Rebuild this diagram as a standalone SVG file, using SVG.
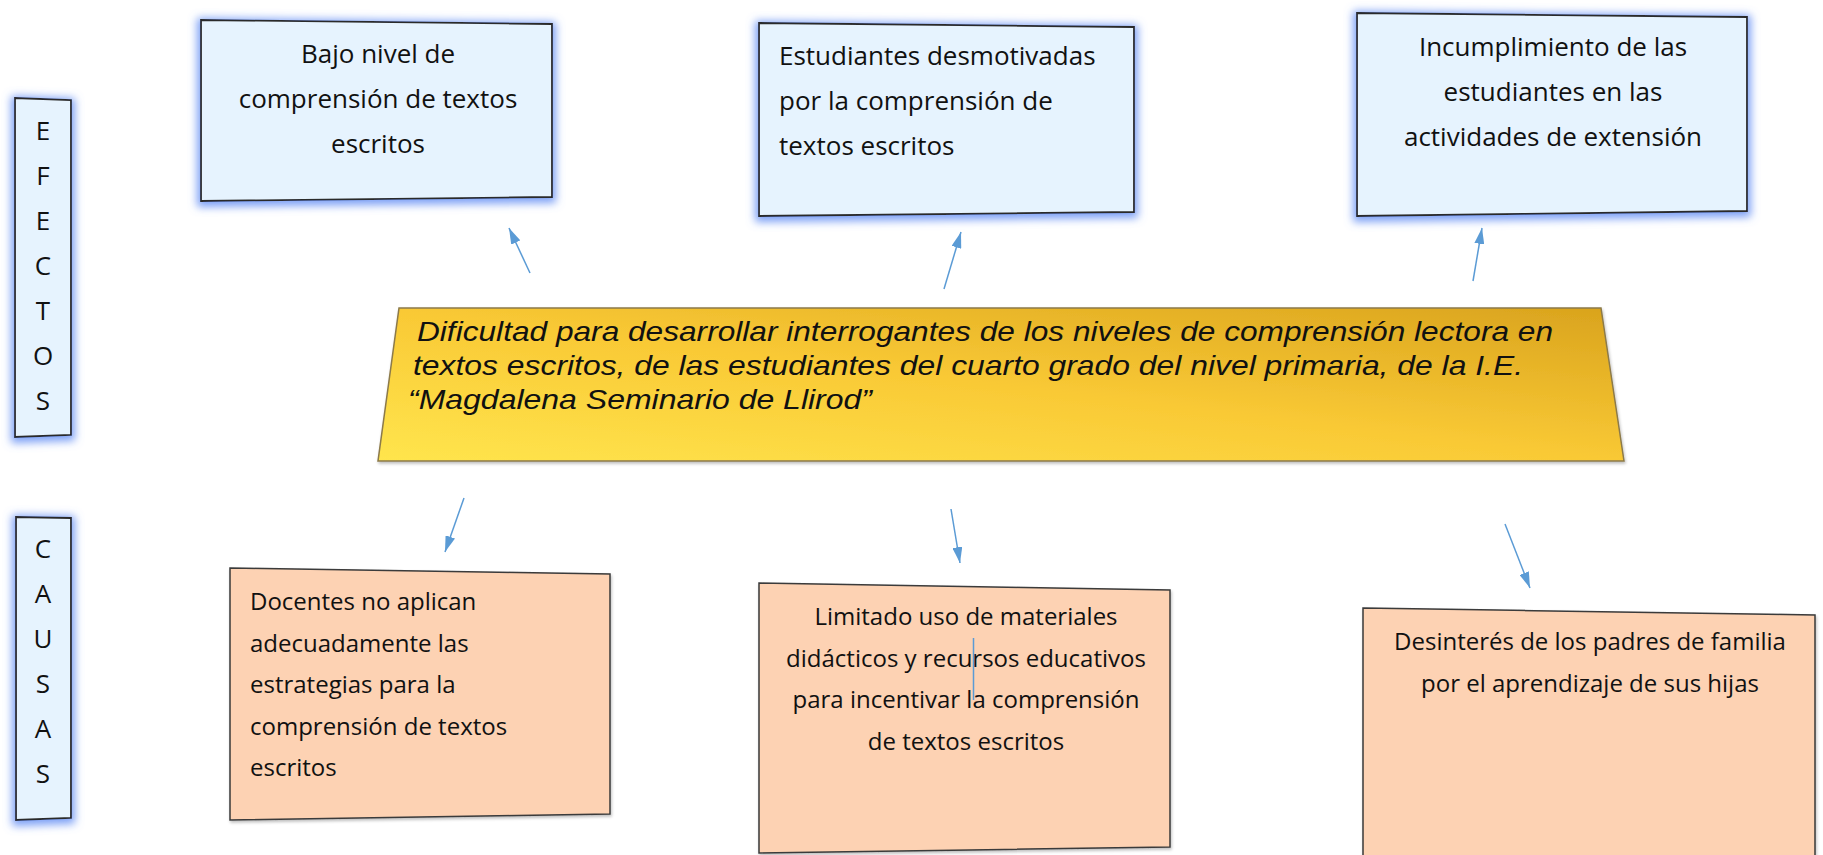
<svg xmlns="http://www.w3.org/2000/svg" width="1823" height="855" viewBox="0 0 1823 855">
<style>
.eff{fill:#e6f3fe;stroke:#2b2b2b;stroke-width:1.8;filter:url(#glow)}
.cau{fill:#fdd2b3;stroke:#3a3a3a;stroke-width:1.5;filter:url(#shadow)}
.t{font-family:"Open Sans","Noto Sans",sans-serif;font-size:26px;fill:#111}
.b{font-family:"Open Sans","Noto Sans",sans-serif;font-size:24px;fill:#111}
.l{font-family:"Open Sans","Noto Sans",sans-serif;font-size:26px;fill:#111;text-anchor:middle}
.p{font-family:"Liberation Sans",Arial,sans-serif;font-style:italic;font-size:27.5px;fill:#111}
.c{text-anchor:middle}
.arr{stroke:#5b9bd5;stroke-width:1.5;fill:none}
</style>
<defs>
<filter id="glow" x="-40%" y="-20%" width="180%" height="140%">
<feMorphology in="SourceAlpha" operator="dilate" radius="3" result="d"/>
<feGaussianBlur in="d" stdDeviation="4.5" result="b"/>
<feOffset in="b" dy="2" result="o"/>
<feFlood flood-color="#6690f4" flood-opacity="0.85"/>
<feComposite in2="o" operator="in" result="g"/>
<feMerge><feMergeNode in="g"/><feMergeNode in="SourceGraphic"/></feMerge>
</filter>
<filter id="shadow" x="-10%" y="-10%" width="120%" height="120%">
<feGaussianBlur in="SourceAlpha" stdDeviation="1.5" result="b"/>
<feOffset in="b" dx="1" dy="2" result="o"/>
<feFlood flood-color="#000" flood-opacity="0.25"/>
<feComposite in2="o" operator="in" result="g"/>
<feMerge><feMergeNode in="g"/><feMergeNode in="SourceGraphic"/></feMerge>
</filter>
<linearGradient id="gold" x1="0" y1="1" x2="1" y2="0">
<stop offset="0" stop-color="#ffe54d"/>
<stop offset="0.5" stop-color="#f9c935"/>
<stop offset="1" stop-color="#d9a31d"/>
</linearGradient>
<marker id="ah" viewBox="0 0 16 10" refX="16" refY="5" markerWidth="16" markerHeight="10" markerUnits="userSpaceOnUse" orient="auto">
<path d="M0,0 L16,5 L0,10 z" fill="#5b9bd5"/>
</marker>
</defs>
<rect width="1823" height="855" fill="#ffffff"/>

<g id="efectos">
<polygon class="eff" points="15,98 71,100 71,435 15,437"/>
<g class="l">
<text x="43" y="140">E</text>
<text x="43" y="185">F</text>
<text x="43" y="230">E</text>
<text x="43" y="275">C</text>
<text x="43" y="320">T</text>
<text x="43" y="365">O</text>
<text x="43" y="410">S</text>
</g>
</g>

<g id="causas">
<polygon class="eff" points="16,517 71,518 71,818 16,820"/>
<g class="l">
<text x="43" y="558">C</text>
<text x="43" y="603">A</text>
<text x="43" y="648">U</text>
<text x="43" y="693">S</text>
<text x="43" y="738">A</text>
<text x="43" y="783">S</text>
</g>
</g>

<g id="efecto1">
<polygon class="eff" points="201,20 552,24 552,197 201,201"/>
<g class="t c">
<text x="378" y="63">Bajo nivel de</text>
<text x="378" y="108">comprensión de textos</text>
<text x="378" y="153">escritos</text>
</g>
</g>

<g id="efecto2">
<polygon class="eff" points="759,23 1134,27 1134,212 759,216"/>
<g class="t">
<text x="779" y="65">Estudiantes desmotivadas</text>
<text x="779" y="110">por la comprensión de</text>
<text x="779" y="155">textos escritos</text>
</g>
</g>

<g id="efecto3">
<polygon class="eff" points="1357,13 1747,17 1747,211 1357,216"/>
<g class="t c">
<text x="1553" y="56">Incumplimiento de las</text>
<text x="1553" y="101">estudiantes en las</text>
<text x="1553" y="146">actividades de extensión</text>
</g>
</g>

<g id="problema">
<polygon points="399,308 1601,308 1624,461 378,461" fill="url(#gold)" stroke="#8c7a4a" stroke-width="1.5" filter="url(#shadow)"/>
<g class="p">
<text x="417" y="341" textLength="1136" lengthAdjust="spacingAndGlyphs">Dificultad para desarrollar interrogantes de los niveles de comprensión lectora en</text>
<text x="413" y="375" textLength="1110" lengthAdjust="spacingAndGlyphs">textos escritos, de las estudiantes del cuarto grado del nivel primaria, de la I.E.</text>
<text x="408" y="409" textLength="464" lengthAdjust="spacingAndGlyphs">“Magdalena Seminario de Llirod”</text>
</g>
</g>

<g id="causa1">
<polygon class="cau" points="230,568 610,574 610,814 230,820"/>
<g class="b">
<text x="250" y="610">Docentes no aplican</text>
<text x="250" y="652">adecuadamente las</text>
<text x="250" y="693">estrategias para la</text>
<text x="250" y="735">comprensión de textos</text>
<text x="250" y="776">escritos</text>
</g>
</g>

<g id="causa2">
<polygon class="cau" points="759,583 1170,590 1170,847 759,853"/>
<g class="b c">
<text x="966" y="625">Limitado uso de materiales</text>
<text x="966" y="667">didácticos y recursos educativos</text>
<text x="966" y="708">para incentivar la comprensión</text>
<text x="966" y="750">de textos escritos</text>
</g>
</g>

<g id="causa3">
<polygon class="cau" points="1363,608 1815,615 1815,870 1363,870"/>
<g class="b c">
<text x="1590" y="650">Desinterés de los padres de familia</text>
<text x="1590" y="692">por el aprendizaje de sus hijas</text>
</g>
</g>

<g id="connectors">
<line class="arr" x1="530" y1="273" x2="509" y2="228" marker-end="url(#ah)"/>
<line class="arr" x1="944" y1="289" x2="961" y2="232" marker-end="url(#ah)"/>
<line class="arr" x1="1473" y1="281" x2="1482" y2="228" marker-end="url(#ah)"/>
<line class="arr" x1="464" y1="498" x2="445" y2="552" marker-end="url(#ah)"/>
<line class="arr" x1="951" y1="509" x2="960" y2="563" marker-end="url(#ah)"/>
<line class="arr" x1="1505" y1="524" x2="1530" y2="588" marker-end="url(#ah)"/>
<line class="arr" x1="973.5" y1="638" x2="973.5" y2="700"/>
</g>
</svg>
